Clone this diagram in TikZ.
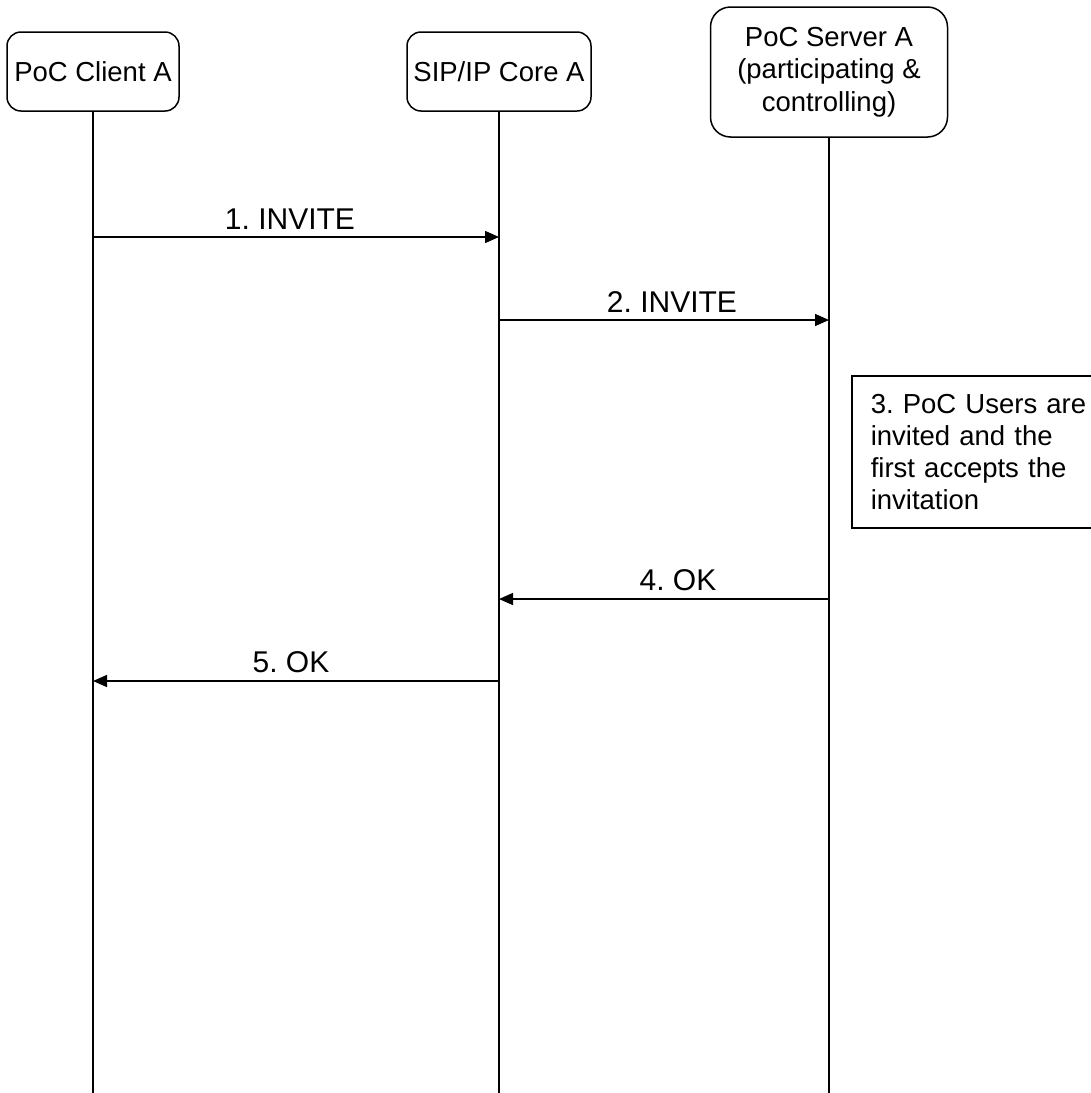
\documentclass[tikz,border=0pt]{standalone}
\usepackage{fontspec}
\setmainfont{Liberation Sans}
\frenchspacing
\usetikzlibrary{arrows.meta}
\tikzset{
  entity/.style={draw,rounded corners=14pt,line width=1.5pt,align=center,inner sep=0pt},
  life/.style={line width=1.5pt},
  msg/.style={line width=1.5pt,-{Triangle[length=14pt,width=12pt]}},
  msglabel/.style={above,inner sep=7pt,font=\fontsize{30}{34}\selectfont},
  note/.style={draw,line width=1.5pt,align=left,text width=226pt,inner xsep=19pt,minimum height=152pt,anchor=north west}
}
\begin{document}
\begin{tikzpicture}[x=1pt,y=-1pt,font=\fontsize{27.5}{32.5}\selectfont]
\useasboundingbox (0,0) rectangle (1091,1093);
\coordinate (bottom) at (0,1093);
\node[entity,minimum width=172pt,minimum height=79pt] (client) at (93,71.5) {PoC Client A};
\node[entity,minimum width=184pt,minimum height=79pt] (core) at (499,71.5) {SIP/IP Core A};
\node[entity,minimum width=237pt,minimum height=130pt,rounded corners=20pt] (server) at (829,72) {PoC Server A\\(participating \&\\controlling)};
\foreach \e in {client,core,server}
  \draw[life] (\e) -- (\e |- bottom);
\coordinate (r1) at (0,237);
\coordinate (r2) at (0,320);
\coordinate (r4) at (0,599);
\coordinate (r5) at (0,681);
\draw[msg] (client |- r1) -- node[msglabel,xshift=-6pt] {1. INVITE} (core |- r1);
\draw[msg] (core |- r2) -- node[msglabel,xshift=8pt] {2. INVITE} (server |- r2);
\node[note,font=\fontsize{27.5}{32}\selectfont] (users) at (851,375) {3. PoC Users are invited and the first accepts the invitation};
\draw[msg] (server |- r4) -- node[msglabel,xshift=14pt] {4. OK} (core |- r4);
\draw[msg] (core |- r5) -- node[msglabel,xshift=-5pt] {5. OK} (client |- r5);
\end{tikzpicture}
\end{document}
